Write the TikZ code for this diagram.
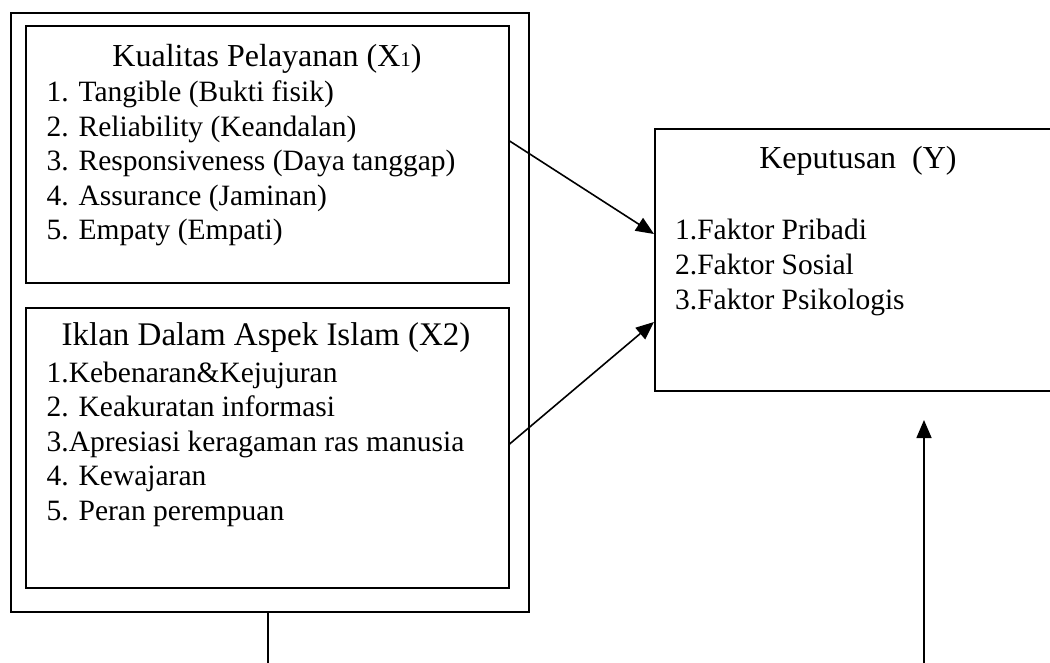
\documentclass[tikz,border=0pt]{standalone}
\usepackage{fontspec}
\setmainfont{Liberation Serif}
\usetikzlibrary{arrows.meta}
\newcommand{\bigtxt}{\fontsize{29.5}{34.5}\selectfont}
\newcommand{\ttltxt}{\fontsize{32}{36}\selectfont}
\tikzset{
  box/.style={draw, line width=1.6pt, inner sep=0pt, anchor=north west},
  txt/.style={inner sep=0pt, font=\bigtxt},
  item/.style={txt, anchor=base west},
  ttl/.style={inner sep=0pt, font=\ttltxt, anchor=base},
  arr/.style={line width=1.6pt, -{Triangle[length=18pt,width=15pt]}},
  ln/.style={line width=1.6pt}
}
\begin{document}
\begin{tikzpicture}[x=1pt,y=-1pt]
\useasboundingbox (0,0) rectangle (1050,663);
% boxes
\node[box, minimum width=518pt, minimum height=599pt] (outer) at (10,12) {};
\node[box, minimum width=483pt, minimum height=257pt] (b1) at (25,25) {};
\node[box, minimum width=483pt, minimum height=280pt] (b2) at (25,307) {};
\node[box, minimum width=410pt, minimum height=262pt] (y) at (654,128) {};
% box 1 text
\node[ttl] (t1) at (267,67) {Kualitas Pelayanan (X{\fontsize{21}{21}\selectfont 1})};
\node[item] (t1a) at (46.5,102) {1. Tangible (Bukti fisik)};
\node[item] (t1b) at (46.5,136.5) {2. Reliability (Keandalan)};
\node[item] (t1c) at (46.5,171) {3. Responsiveness (Daya tanggap)};
\node[item] (t1d) at (46.5,205.5) {4. Assurance (Jaminan)};
\node[item] (t1e) at (46.5,240) {5. Empaty (Empati)};
% box 2 text
\node[ttl, font=\fontsize{33}{36}\selectfont] (t2) at (266,345) {Iklan Dalam Aspek Islam (X2)};
\node[item] (t2a) at (46.5,382) {1.Kebenaran\&Kejujuran};
\node[item] (t2b) at (46.5,416.5) {2. Keakuratan informasi};
\node[item] (t2c) at (46.5,451) {3.Apresiasi keragaman ras manusia};
\node[item] (t2d) at (46.5,485.5) {4. Kewajaran};
\node[item] (t2e) at (46.5,520) {5. Peran perempuan};
% Y text
\node[ttl] (ty) at (858,169) {Keputusan\ \ (Y)};
\node[item] (tya) at (675,240) {1.Faktor Pribadi};
\node[item] (tyb) at (675,274.5) {2.Faktor Sosial};
\node[item] (tyc) at (675,309) {3.Faktor Psikologis};
% connector coordinates
\coordinate (a1s) at (0,141);
\coordinate (a1e) at (0,234);
\coordinate (a2s) at (0,444);
\coordinate (a2e) at (0,322);
\coordinate (vx) at (268,663);
\coordinate (ux) at (924,663);
\coordinate (utip) at (924,420);
% connectors
\draw[arr] (b1.east |- a1s) -- (y.west |- a1e);
\draw[arr] (b2.east |- a2s) -- (y.west |- a2e);
\draw[ln] (outer.south -| vx) -- (vx);
\draw[arr] (ux) -- (utip);
\end{tikzpicture}
\end{document}
